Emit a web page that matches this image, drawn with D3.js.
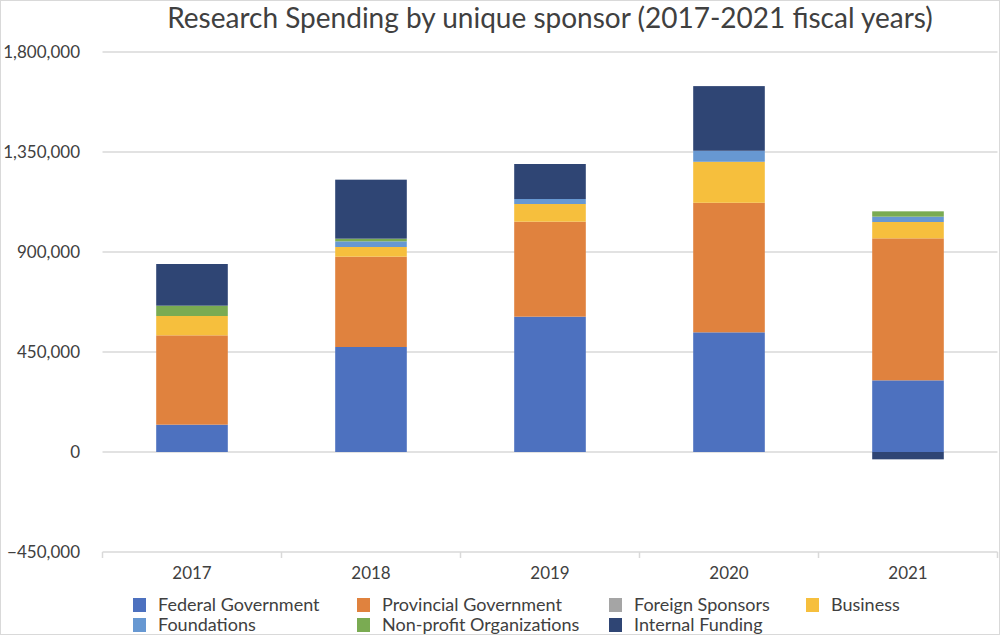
<!DOCTYPE html>
<html>
<head>
<meta charset="utf-8">
<script src="https://cdn.jsdelivr.net/npm/d3@7"></script>
<style>
  html, body { margin: 0; padding: 0; background: #fff; }
  svg { display: block; font-family: Lato, "Open Sans", sans-serif; }
</style>
</head>
<body>
<svg id="chart" width="1000" height="635"></svg>
<script>
// ---- Data ----
const years = ["2017", "2018", "2019", "2020", "2021"];
const seriesNames = ["Federal Government", "Provincial Government", "Foreign Sponsors", "Business",
                     "Foundations", "Non-profit Organizations", "Internal Funding"];
const federal     = [123000, 472500, 609000, 538500, 322500];
const provincial  = [402000, 406500, 427500, 583000, 639000];
const foreign     = [0, 0, 0, 0, 0];
const business    = [87000, 43500, 79500, 184500, 73500];
const foundations = [0, 25500, 22500, 49500, 24000];
const nonprofit   = [46500, 12000, 0, 0, 24000];
const internal    = [187500, 265500, 157500, 291000, -33000];
const yTicks = [-450000, 0, 450000, 900000, 1350000, 1800000];
const titleText = "Research Spending by unique sponsor (2017-2021 fiscal years)";

const seriesValues = [federal, provincial, foreign, business, foundations, nonprofit, internal];
const colors = ["#4D71BF", "#E0823E", "#A5A5A5", "#F6BF3D", "#6798D2", "#7AAB52", "#2F4574"];

const table = years.map((y, i) => {
  const row = { year: y };
  seriesNames.forEach((s, k) => row[s] = seriesValues[k][i]);
  return row;
});

const svg = d3.select("#chart");
const W = 1000, H = 635;
const plot = { left: 102.5, right: 997.5, top: 52, bottom: 552 };

// chart border
svg.append("rect").attr("x", 0.5).attr("y", 0.5).attr("width", W - 1).attr("height", H - 1)
  .attr("fill", "#fff").attr("stroke", "#d9d9d9").attr("stroke-width", 1);

const x = d3.scaleBand().domain(years).range([plot.left, plot.right])
  .paddingInner(0.6).paddingOuter(0.3);
const y = d3.scaleLinear().domain([-450000, 1800000]).range([plot.bottom, plot.top]);

// gridlines
svg.append("g").selectAll("line").data(yTicks.filter(t => t !== -450000)).join("line")
  .attr("x1", plot.left).attr("x2", plot.right)
  .attr("y1", d => y(d)).attr("y2", d => y(d))
  .attr("stroke", "#d9d9d9").attr("stroke-width", 1.5);

// y axis labels
const yAxis = d3.axisLeft(y).tickValues(yTicks).tickFormat(d3.format(",")).tickSize(0).tickPadding(0);
const ya = svg.append("g").attr("transform", `translate(80,0)`).call(yAxis);
ya.select(".domain").remove();
ya.selectAll("text").attr("font-size", 17).attr("fill", "#404040")
  .attr("font-family", "Lato, 'Open Sans', sans-serif");

// stacked bars
const stack = d3.stack().keys(seriesNames).offset(d3.stackOffsetDiverging);
const stacked = stack(table);
svg.append("g").selectAll("g").data(stacked).join("g")
  .attr("fill", (d, i) => colors[i])
  .selectAll("rect").data(d => d).join("rect")
  .attr("x", d => x(d.data.year))
  .attr("width", x.bandwidth())
  .attr("y", d => y(Math.max(d[0], d[1])))
  .attr("height", d => Math.abs(y(d[0]) - y(d[1])));

// x axis
svg.append("line").attr("x1", plot.left).attr("x2", plot.right)
  .attr("y1", plot.bottom).attr("y2", plot.bottom)
  .attr("stroke", "#d9d9d9").attr("stroke-width", 1.5);
const edges = years.map((yr, i) => plot.left + i * x.step()).concat([plot.right]);
svg.append("g").selectAll("line").data(edges).join("line")
  .attr("x1", d => d).attr("x2", d => d)
  .attr("y1", plot.bottom).attr("y2", plot.bottom + 6)
  .attr("stroke", "#d9d9d9").attr("stroke-width", 1.5);
const xAxis = d3.axisBottom(x).tickSize(0).tickPadding(0);
const xa = svg.append("g").attr("transform", `translate(0,${plot.bottom + 15})`).call(xAxis);
xa.select(".domain").remove();
xa.selectAll("text").attr("font-size", 17).attr("fill", "#404040")
  .attr("font-family", "Lato, 'Open Sans', sans-serif").attr("dy", "0.71em");

// title
svg.append("text").attr("x", 550).attr("y", 28).attr("text-anchor", "middle")
  .attr("font-size", 28).attr("fill", "#404040").text(titleText);

// legend
const legendPos = [[133, 598], [357, 598], [609, 598], [806, 598],
                   [133, 618], [357, 618], [609, 618]];
const lg = svg.append("g").selectAll("g").data(seriesNames).join("g")
  .attr("transform", (d, i) => `translate(${legendPos[i][0]},${legendPos[i][1]})`);
lg.append("rect").attr("width", 13).attr("height", 14).attr("fill", (d, i) => colors[i]);
lg.append("text").attr("x", 25).attr("y", 7).attr("dy", "0.35em")
  .attr("font-size", 18).attr("fill", "#404040").text(d => d);
</script>
</body>
</html>
